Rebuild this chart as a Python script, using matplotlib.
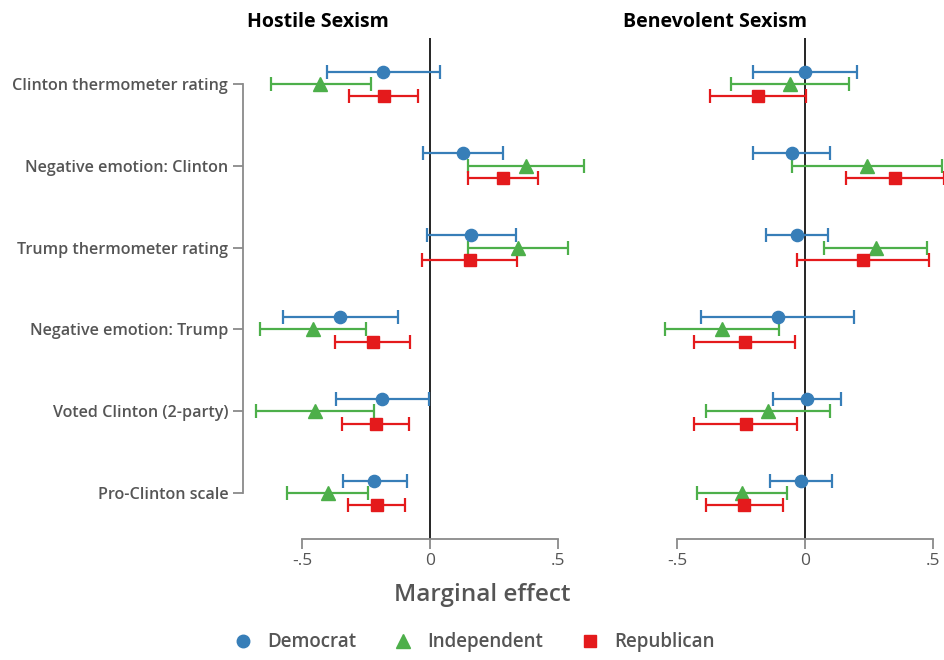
import numpy as np
import matplotlib
matplotlib.use("Agg")
import matplotlib.pyplot as plt
from matplotlib.lines import Line2D

plt.rcParams['font.family'] = ['Open Sans', 'DejaVu Sans']

outcomes = ["Clinton thermometer rating", "Negative emotion: Clinton",
            "Trump thermometer rating", "Negative emotion: Trump",
            "Voted Clinton (2-party)", "Pro-Clinton scale"]
parties = ["Democrat", "Independent", "Republican"]

# hostile sexism: point estimate, lower, upper
hostile_dem = [-0.184, 0.128, 0.159, -0.352, -0.187, -0.219]
hostile_dem_lo = [-0.405, -0.029, -0.013, -0.577, -0.368, -0.342]
hostile_dem_hi = [0.038, 0.284, 0.333, -0.126, -0.005, -0.092]
hostile_ind = [-0.430, 0.374, 0.343, -0.458, -0.450, -0.401]
hostile_ind_lo = [-0.624, 0.147, 0.147, -0.665, -0.681, -0.558]
hostile_ind_hi = [-0.232, 0.602, 0.539, -0.251, -0.221, -0.242]
hostile_rep = [-0.181, 0.284, 0.155, -0.225, -0.213, -0.210]
hostile_rep_lo = [-0.318, 0.146, -0.032, -0.372, -0.344, -0.321]
hostile_rep_hi = [-0.048, 0.422, 0.339, -0.078, -0.082, -0.100]

# benevolent sexism
benev_dem = [-0.003, -0.053, -0.032, -0.108, 0.008, -0.017]
benev_dem_lo = [-0.204, -0.204, -0.154, -0.407, -0.125, -0.139]
benev_dem_hi = [0.202, 0.098, 0.090, 0.191, 0.139, 0.104]
benev_ind = [-0.060, 0.240, 0.275, -0.327, -0.146, -0.246]
benev_ind_lo = [-0.290, -0.051, 0.072, -0.549, -0.388, -0.422]
benev_ind_hi = [0.171, 0.533, 0.477, -0.103, 0.096, -0.070]
benev_rep = [-0.185, 0.350, 0.225, -0.237, -0.233, -0.239]
benev_rep_lo = [-0.374, 0.160, -0.032, -0.435, -0.436, -0.389]
benev_rep_hi = [0.003, 0.542, 0.482, -0.040, -0.032, -0.087]

colors = ["#377eb8", "#4daf4a", "#e41a1c"]
markers = ["o", "^", "s"]
offsets = [-0.15, 0.0, 0.15]
gray = "#555555"
spine_gray = "#8a8a8a"


def draw_panel(ax, series, title, title_x, xlim, show_y):
    y = np.arange(len(outcomes))
    for (est, lo, hi), c, m, off in zip(series, colors, markers, offsets):
        est, lo, hi = map(np.array, (est, lo, hi))
        ax.errorbar(est, y + off, xerr=[est - lo, hi - est], fmt="none",
                    ecolor=c, elinewidth=1.6, capsize=5, capthick=1.6,
                    clip_on=False, zorder=2)
        ax.plot(est, y + off, linestyle="none", marker=m, color=c,
                markersize=9.5 if m == "^" else 8.8, clip_on=False, zorder=3)
    ax.axvline(0, color="black", lw=1.2, zorder=1)
    ax.set_xlim(*xlim)
    ax.set_ylim(5.56, -0.56)
    ax.set_xticks([-0.5, 0, 0.5])
    ax.set_xticklabels(["-.5", "0", ".5"])
    ax.spines["top"].set_visible(False)
    ax.spines["right"].set_visible(False)
    ax.spines["bottom"].set_bounds(-0.5, 0.5)
    ax.spines["bottom"].set_color(spine_gray)
    ax.spines["bottom"].set_linewidth(1.3)
    ax.tick_params(axis="x", length=7, width=1.3, color=spine_gray,
                   labelcolor=gray, labelsize=12.5, pad=3)
    if show_y:
        ax.spines["left"].set_bounds(0, 5)
        ax.spines["left"].set_color(spine_gray)
        ax.spines["left"].set_linewidth(1.3)
        ax.set_yticks(y)
        ax.set_yticklabels(outcomes)
        ax.tick_params(axis="y", length=7, width=1.3, color=spine_gray,
                       labelcolor=gray, labelsize=11.6, pad=4)
        for lbl in ax.get_yticklabels():
            lbl.set_fontweight("semibold")
    else:
        ax.spines["left"].set_visible(False)
        ax.set_yticks([])
    ax.text(title_x, 1.012, title, transform=ax.transAxes, ha="center",
            va="bottom", fontsize=14, fontweight="bold", color="black")


fig = plt.figure(figsize=(9.45, 6.6), dpi=100)
ax1 = fig.add_axes([0.2576, 0.1833, 0.3603, 0.7591])
ax2 = fig.add_axes([0.6978, 0.1833, 0.3020, 0.7591])

draw_panel(ax1, [(hostile_dem, hostile_dem_lo, hostile_dem_hi),
                 (hostile_ind, hostile_ind_lo, hostile_ind_hi),
                 (hostile_rep, hostile_rep_lo, hostile_rep_hi)],
           "Hostile Sexism", 0.22, (-0.73, 0.6), True)
draw_panel(ax2, [(benev_dem, benev_dem_lo, benev_dem_hi),
                 (benev_ind, benev_ind_lo, benev_ind_hi),
                 (benev_rep, benev_rep_lo, benev_rep_hi)],
           "Benevolent Sexism", 0.195, (-0.57, 0.545), False)

fig.text(0.51, 0.098, "Marginal effect", ha="center", va="center",
         fontsize=17.5, fontweight="semibold", color=gray)

handles = [Line2D([], [], linestyle="none", marker=m, color=c,
                  markersize=10 if m == "^" else 9)
           for m, c in zip(markers, colors)]
leg = fig.legend(handles, parties, loc="center", ncol=3,
                 bbox_to_anchor=(0.497, 0.027), frameon=False,
                 fontsize=13.5, handletextpad=0.3, columnspacing=1.5)
for t in leg.get_texts():
    t.set_color(gray)
    t.set_fontweight("semibold")

fig.savefig("out.png", dpi=100)
